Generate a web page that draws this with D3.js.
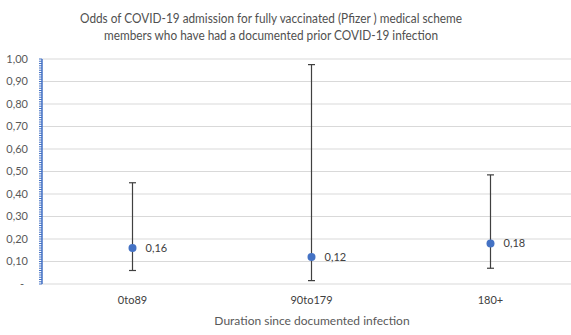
<!DOCTYPE html>
<html>
<head>
<meta charset="utf-8">
<script src="https://cdn.jsdelivr.net/npm/d3@7"></script>
<style>
  body { margin: 0; background: #fff; }
  svg { display: block; font-family: Lato, "Open Sans", sans-serif; }
</style>
</head>
<body>
<svg width="571" height="335"></svg>
<script>
const categories = ["0to89", "90to179", "180+"];
const oddsValues = [0.16, 0.12, 0.18];
const lowerCI = [0.06, 0.015, 0.07];
const upperCI = [0.45, 0.975, 0.485];
const yTicks = [0, 0.1, 0.2, 0.3, 0.4, 0.5, 0.6, 0.7, 0.8, 0.9, 1.0];
const titleLines = [
    "Odds of COVID-19 admission for fully vaccinated (Pfizer ) medical scheme",
    "members who have had a documented prior COVID-19 infection"
];
const titleWidths = [382, 334];
const xTitle = "Duration since documented infection";

const svg = d3.select("svg");
const width = 571, height = 335;
const plotLeft = 42, plotTop = 59, plotBottom = 284;

const x = d3.scaleBand().domain(categories).range([43, 580]);
const y = d3.scaleLinear().domain([0, 1]).range([plotBottom, plotTop]);

const fmt = v => v === 0 ? "-" : d3.format(".2f")(v).replace(".", ",");

// gridlines
svg.append("g")
    .selectAll("line")
    .data(yTicks.filter(d => d > 0))
    .enter().append("line")
    .attr("x1", plotLeft).attr("x2", width)
    .attr("y1", d => y(d)).attr("y2", d => y(d))
    .attr("stroke", "#d9d9d9").attr("stroke-width", 1);

// x axis line
svg.append("line")
    .attr("x1", plotLeft).attr("x2", width)
    .attr("y1", plotBottom).attr("y2", plotBottom)
    .attr("stroke", "#d9d9d9").attr("stroke-width", 1);

// y tick labels
svg.append("g")
    .selectAll("text")
    .data(yTicks)
    .enter().append("text")
    .attr("x", d => d === 0 ? 24 : 28)
    .attr("y", d => y(d))
    .attr("dy", "0.35em")
    .attr("text-anchor", "end")
    .attr("font-size", 11)
    .attr("fill", "#595959")
    .text(fmt);

// y axis with minor ticks
const minor = d3.range(0, 101).map(i => i / 100);
svg.append("g")
    .selectAll("line")
    .data(minor)
    .enter().append("line")
    .attr("x1", plotLeft - 3).attr("x2", plotLeft)
    .attr("y1", d => y(d)).attr("y2", d => y(d))
    .attr("stroke", "#4472c4").attr("stroke-width", 1);
svg.append("line")
    .attr("x1", plotLeft).attr("x2", plotLeft)
    .attr("y1", y(1)).attr("y2", y(0))
    .attr("stroke", "#4472c4").attr("stroke-width", 1.5);

// x category labels
svg.append("g")
    .selectAll("text")
    .data(categories)
    .enter().append("text")
    .attr("x", d => x(d) + x.bandwidth() / 2)
    .attr("y", 304)
    .attr("text-anchor", "middle")
    .attr("font-size", 11)
    .attr("fill", "#404040")
    .text(d => d);

// error bars
const bars = svg.append("g").selectAll("g")
    .data(categories)
    .enter().append("g")
    .attr("stroke", "#404040").attr("stroke-width", 1.2);
bars.append("line")
    .attr("x1", d => x(d) + x.bandwidth() / 2)
    .attr("x2", d => x(d) + x.bandwidth() / 2)
    .attr("y1", (d, i) => y(upperCI[i]))
    .attr("y2", (d, i) => y(lowerCI[i]));
[upperCI, lowerCI].forEach(arr => {
    bars.append("line")
        .attr("x1", d => x(d) + x.bandwidth() / 2 - 3.5)
        .attr("x2", d => x(d) + x.bandwidth() / 2 + 3.5)
        .attr("y1", (d, i) => y(arr[i]))
        .attr("y2", (d, i) => y(arr[i]));
});

// points
svg.append("g")
    .selectAll("circle")
    .data(categories)
    .enter().append("circle")
    .attr("cx", d => x(d) + x.bandwidth() / 2)
    .attr("cy", (d, i) => y(oddsValues[i]))
    .attr("r", 4)
    .attr("fill", "#4472c4");

// data labels
svg.append("g")
    .selectAll("text")
    .data(categories)
    .enter().append("text")
    .attr("x", d => x(d) + x.bandwidth() / 2 + 13)
    .attr("y", (d, i) => y(oddsValues[i]))
    .attr("dy", "0.35em")
    .attr("font-size", 11)
    .attr("fill", "#404040")
    .text((d, i) => fmt(oddsValues[i]));

// titles
svg.append("g")
    .selectAll("text")
    .data(titleLines)
    .enter().append("text")
    .attr("x", 271)
    .attr("y", (d, i) => 23 + i * 17)
    .attr("text-anchor", "middle")
    .attr("font-size", 13.5)
    .attr("fill", "#505050")
    .attr("textLength", (d, i) => titleWidths[i])
    .attr("lengthAdjust", "spacingAndGlyphs")
    .text(d => d);

svg.append("text")
    .attr("x", 312)
    .attr("y", 325)
    .attr("text-anchor", "middle")
    .attr("font-size", 12)
    .attr("fill", "#595959")
    .text(xTitle);
</script>
</body>
</html>
